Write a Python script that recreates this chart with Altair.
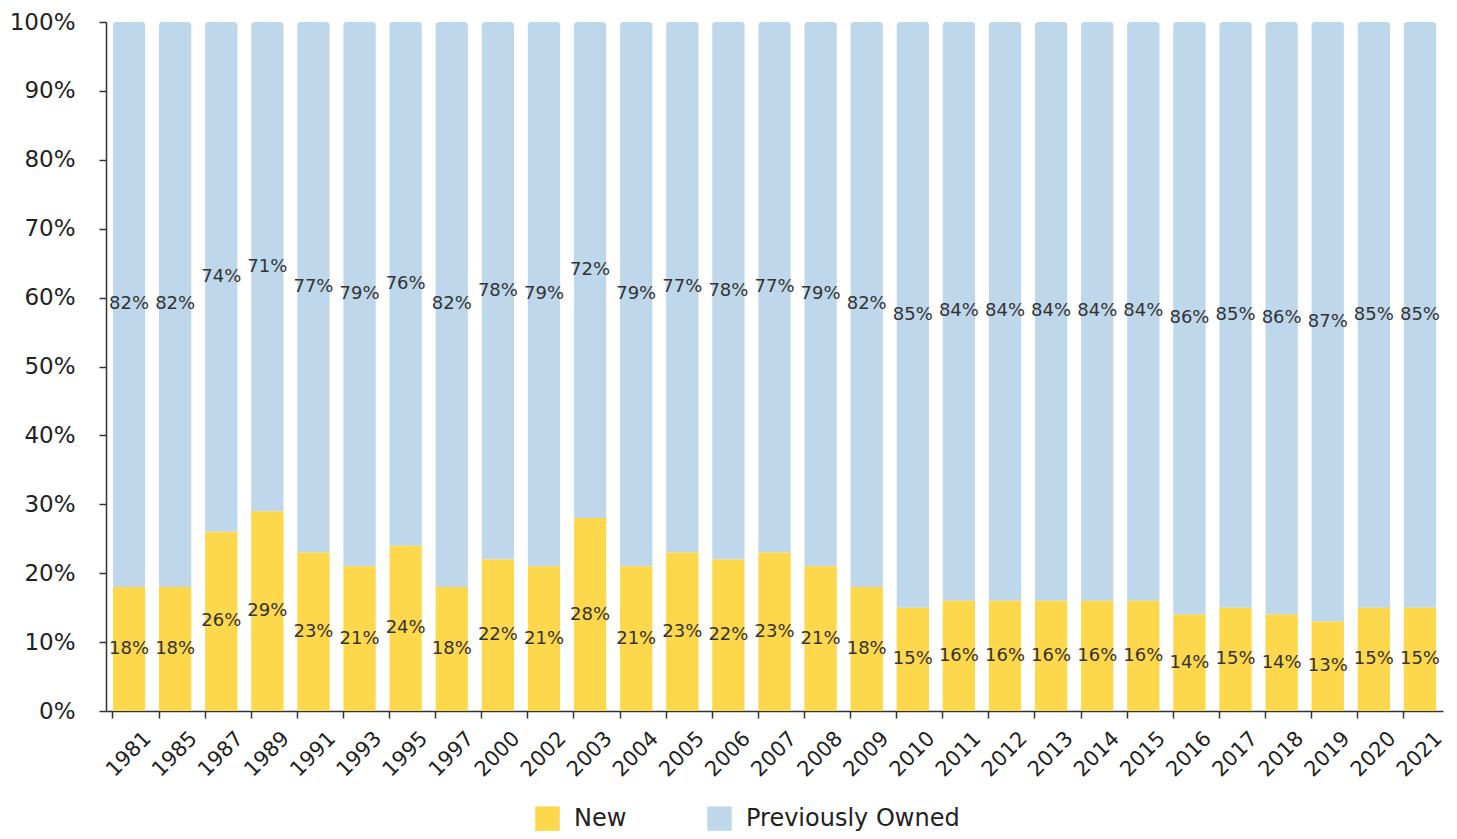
import altair as alt
import pandas as pd

years = ["1981", "1985", "1987", "1989", "1991", "1993", "1995", "1997", "2000", "2002",
         "2003", "2004", "2005", "2006", "2007", "2008", "2009", "2010", "2011", "2012",
         "2013", "2014", "2015", "2016", "2017", "2018", "2019", "2020", "2021"]
new_pct = [18, 18, 26, 29, 23, 21, 24, 18, 22, 21, 28, 21, 23, 22, 23, 21, 18, 15, 16, 16,
           16, 16, 16, 14, 15, 14, 13, 15, 15]
prev_pct = [82, 82, 74, 71, 77, 79, 76, 82, 78, 79, 72, 79, 77, 78, 77, 79, 82, 85, 84, 84,
            84, 84, 84, 86, 85, 86, 87, 85, 85]
series = ["New", "Previously Owned"]
colors = ["#FDD74C", "#BFD7EA"]

rows = []
for y, n, p in zip(years, new_pct, prev_pct):
    rows.append({"year": y, "series": "New", "start": 0, "end": n, "mid": n / 2, "label": f"{n}%"})
    rows.append({"year": y, "series": "Previously Owned", "start": n, "end": n + p,
                 "mid": n + p / 2, "label": f"{p}%"})
df = pd.DataFrame(rows)

FONT = "DejaVu Sans"

x_enc = alt.X("year:N", sort=years, title=None,
              scale=alt.Scale(paddingInner=0.3, paddingOuter=0.15),
              axis=alt.Axis(labelAngle=-45, labelAlign="center", labelBaseline="middle",
                            labelPadding=36, tickSize=7, bandPosition=0,
                            labelFontSize=21, labelColor="#222", labelFont=FONT,
                            domainColor="#333", tickColor="#333", domainWidth=1.5,
                            tickWidth=1.5))
y_scale = alt.Scale(domain=[0, 100])
y_enc = alt.Y("start:Q", scale=y_scale, title=None,
              axis=alt.Axis(values=list(range(0, 101, 10)), labelExpr="datum.value + '%'",
                            labelFontSize=23, labelColor="#222", labelFont=FONT,
                            labelPadding=24, tickSize=7, domainColor="#333", tickColor="#333",
                            domainWidth=1.5, tickWidth=1.5, grid=False))
color_enc = alt.Color("series:N", scale=alt.Scale(domain=series, range=colors),
                      legend=alt.Legend(title=None, orient="none", direction="horizontal",
                                        legendX=429, legendY=784, symbolType="square",
                                        symbolSize=600, symbolStrokeWidth=0, labelFontSize=24,
                                        labelFont=FONT, labelColor="#222", labelOffset=14,
                                        labelLimit=400, columnPadding=80, padding=0))

base = alt.Chart(df)

bars_prev = base.transform_filter(alt.datum.series == "Previously Owned").mark_bar(
    cornerRadiusTopLeft=3, cornerRadiusTopRight=3).encode(
    x=x_enc, y=y_enc, y2="end:Q", color=color_enc)

bars_new = base.transform_filter(alt.datum.series == "New").mark_bar().encode(
    x=x_enc, y=y_enc, y2="end:Q", color=color_enc)

labels = base.mark_text(fontSize=18, font=FONT, color="#333").encode(
    x=alt.X("year:N", sort=years),
    y=alt.Y("mid:Q", scale=y_scale),
    text="label:N",
)

chart = alt.layer(bars_prev, bars_new, labels).properties(
    width=1337, height=689,
    padding={"left": 98, "top": 14, "right": 6, "bottom": 120},
    autosize="none",
).configure_view(stroke=None)

chart.save("out.html", embed_options={"renderer": "svg", "actions": False})
